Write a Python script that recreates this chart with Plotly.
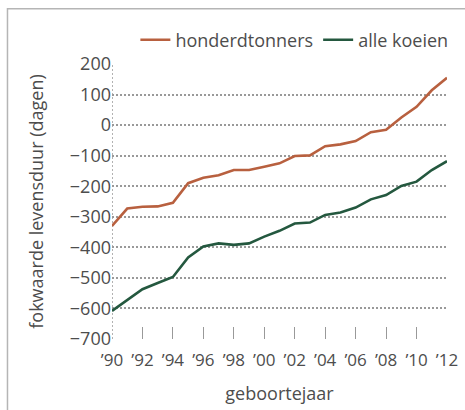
import plotly.graph_objects as go

years = list(range(1990, 2013))
honderdtonners = [-330, -273, -267, -266, -254, -190, -172, -164, -147, -147, -136, -125,
                  -101, -99, -69, -63, -52, -23, -15, 25, 60, 114, 155]
alle_koeien = [-608, -572, -537, -517, -497, -433, -397, -387, -392, -387, -365, -346,
               -322, -319, -294, -286, -270, -243, -229, -199, -185, -147, -118]
x_tickvals = list(range(1990, 2013, 2))
x_ticktext = ["\u2019%02d" % (y % 100) for y in x_tickvals]
y_tickvals = list(range(-700, 201, 100))
y_ticktext = [str(v).replace("-", "\u2212") for v in y_tickvals]

ORANGE = "#B8603F"
GREEN = "#24583F"
TEXT = "#4d4d4d"
GRID = "#999999"
FONT = "Open Sans"
DOTS = "2px,2px"

fig = go.Figure()
fig.add_trace(go.Scatter(x=years, y=honderdtonners, mode="lines", name="honderdtonners",
                         line=dict(color=ORANGE, width=2.6)))
fig.add_trace(go.Scatter(x=years, y=alle_koeien, mode="lines", name="alle koeien",
                         line=dict(color=GREEN, width=2.6)))

fig.update_layout(
    width=465, height=410,
    margin=dict(l=112, r=18, t=64, b=71, autoexpand=False),
    paper_bgcolor="white", plot_bgcolor="white",
    font=dict(family=FONT, size=17, color=TEXT),
    showlegend=True,
    legend=dict(orientation="h", xref="container", x=0.975, xanchor="right",
                yref="container", y=1 - 40 / 410, yanchor="middle",
                font=dict(size=18, color=TEXT), itemwidth=30, tracegroupgap=0,
                bgcolor="rgba(0,0,0,0)"),
    xaxis=dict(range=[1990, 2012], tickvals=x_tickvals, ticktext=x_ticktext,
               showgrid=False, zeroline=False, showline=False, automargin=False,
               ticks="inside", ticklen=12, tickcolor=GRID, tickwidth=1,
               ticklabelstandoff=9,
               tickfont=dict(size=17, color=TEXT),
               title=dict(text="geboortejaar", font=dict(size=18, color=TEXT), standoff=17)),
    yaxis=dict(range=[-700, 200], tickvals=y_tickvals, ticktext=y_ticktext,
               showgrid=True, gridcolor=GRID, gridwidth=1.5, griddash=DOTS,
               zeroline=False, showline=False, ticks="", automargin=False,
               tickfont=dict(size=18, color=TEXT),
               title=dict(text="fokwaarde levensduur (dagen)", font=dict(size=18, color=TEXT),
                          standoff=21)),
    shapes=[
        dict(type="line", xref="x", yref="y", x0=1990, x1=1990, y0=-700, y1=200,
             line=dict(color=GRID, width=1.5, dash=DOTS), layer="below"),
        dict(type="rect", xref="paper", yref="paper", x0=-0.312, x1=1.3, y0=-0.4, y1=1.201,
             line=dict(color="#b5b5b5", width=1.5), layer="below"),
    ],
)

fig.write_html(
    "out.html",
    config={"displayModeBar": False},
    post_script="document.body.style.margin='0';document.body.style.overflow='hidden';",
)
